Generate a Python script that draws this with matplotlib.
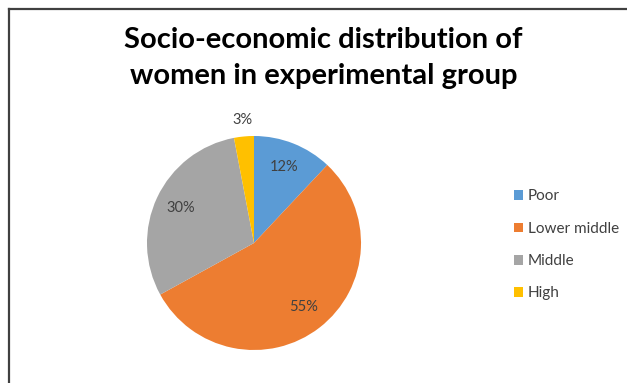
import matplotlib
matplotlib.use('Agg')
import matplotlib.pyplot as plt
from matplotlib.lines import Line2D
import numpy as np

# Data
categories = ['Poor', 'Lower middle', 'Middle', 'High']
values = [12, 55, 30, 3]
colors = ['#5B9BD5', '#ED7D31', '#A5A5A5', '#FFC000']
title_lines = ['Socio-economic distribution of', 'women in experimental group']

plt.rcParams['font.family'] = ['Lato', 'DejaVu Sans']

fig = plt.figure(figsize=(6.27, 3.83), dpi=100)
fig.patch.set_facecolor('white')

# Frame lines (left and top only visible in the crop)
W, H = 627, 383
fig.add_artist(Line2D([9 / W, 9 / W], [0, 1 - 9 / H], transform=fig.transFigure,
                      color='#404040', linewidth=1.6))
fig.add_artist(Line2D([9 / W, 1], [1 - 9 / H, 1 - 9 / H], transform=fig.transFigure,
                      color='#404040', linewidth=1.6))

# Title, two lines
for line, ypix in zip(title_lines, [40, 76]):
    fig.text(0.516, 1 - ypix / H, line, ha='center', va='center',
             fontsize=21, fontweight='bold', color='#000000')

# Pie axes: center (254, 243), radius ~107 px
r = 107
cx, cy = 254, 243
ax = fig.add_axes([(cx - r) / W, 1 - (cy + r) / H, 2 * r / W, 2 * r / H])
wedges, texts = ax.pie(values, colors=colors, startangle=90, counterclock=False,
                       wedgeprops=dict(linewidth=0))
ax.set_aspect('equal')
ax.set_xlim(-1, 1)
ax.set_ylim(-1, 1)

# Percent labels
angle = 90.0
label_r = [0.76, 0.76, 0.76, 1.15]
for v, lr in zip(values, label_r):
    mid = angle - v * 3.6 / 2
    angle -= v * 3.6
    ax.text(lr * np.cos(np.radians(mid)), lr * np.sin(np.radians(mid)), f'{v}%',
            ha='center', va='center', fontsize=10.5, color='#404040')

# Legend
leg = fig.legend(wedges, categories, loc='center left',
                 bbox_to_anchor=(500 / W, 1 - 245 / H),
                 frameon=False, fontsize=11, handlelength=0.6, handleheight=0.6,
                 handletextpad=0.3, labelspacing=1.2, labelcolor='#404040')

fig.savefig('out.png', dpi=100, facecolor='white')
